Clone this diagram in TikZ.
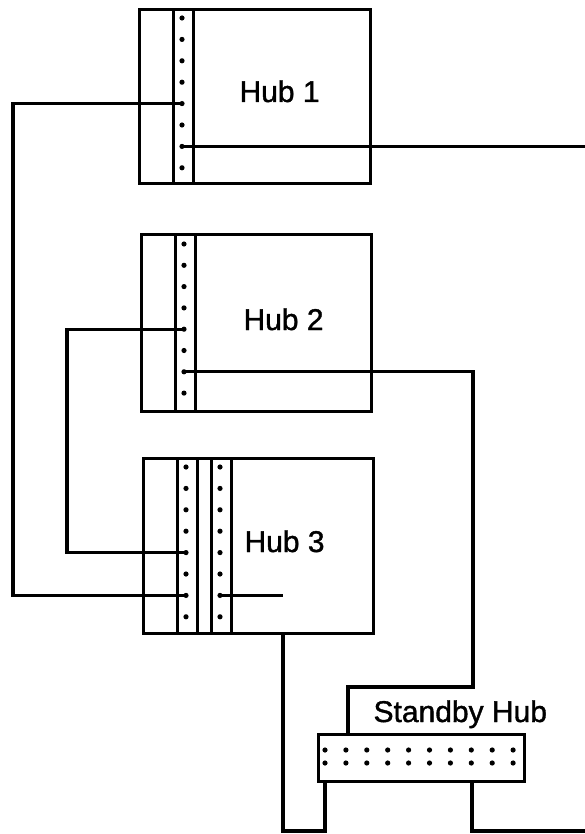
\documentclass[tikz,border=0pt]{standalone}
\usepackage{fontspec}
\setmainfont{Liberation Sans}[BoldFont={Liberation Sans}, BoldFeatures={FakeBold=1.2}]
\begin{document}
\begin{tikzpicture}[
        x=1pt, y=-1pt,
        line width=3.1pt,
        hubbox/.style={rectangle, draw, anchor=north west, inner sep=0pt},
        strip/.style={rectangle, draw, anchor=north west, inner sep=0pt, minimum width=20pt},
        port/.style={circle, fill, inner sep=0pt, minimum size=5.2pt},
        label/.style={anchor=base west, inner sep=0pt, font=\fontsize{30}{36}\selectfont\bfseries},
        wire/.style={draw, line width=3.1pt}
    ]
        \useasboundingbox (0,0) rectangle (585,834);

        % hubs
        \node[hubbox, minimum width=231pt, minimum height=174pt] (hub1) at (138,8) {};
        \node[hubbox, minimum width=230pt, minimum height=177pt] (hub2) at (140,233) {};
        \node[hubbox, minimum width=230pt, minimum height=175pt] (hub3) at (142,457) {};
        \node[hubbox, minimum width=206pt, minimum height=47pt] (standby) at (317,733) {};

        \node[strip, minimum height=174pt] (h1s) at (172,8) {};
        \node[strip, minimum height=177pt] (h2s) at (174,233) {};
        \node[strip, minimum height=175pt] (h3sa) at (176,457) {};
        \node[strip, minimum height=175pt] (h3sb) at (210,457) {};

        \node[label] at (238,102) {Hub 1};
        \node[label] at (242,330) {Hub 2};
        \node[label] at (243,552) {Hub 3};
        \node[label] at (372,722) {Standby Hub};

        % ports
        \foreach \k in {1,...,8} {
            \node[port] (h1p\k) at (182, {18+21.4*(\k-1)}) {};
            \node[port] (h2p\k) at (184, {244+21.3*(\k-1)}) {};
            \node[port] (h3a\k) at (186, {467+21.4*(\k-1)}) {};
            \node[port] (h3b\k) at (220, {467+21.4*(\k-1)}) {};
        }
        \foreach \k in {1,...,10} {
            \node[port] (sbu\k) at ({325+20.9*(\k-1)}, 750) {};
            \node[port] (sbl\k) at ({325+20.9*(\k-1)}, 763) {};
        }

        % turning points
        \coordinate (west1) at (13,0);
        \coordinate (west2) at (67,0);
        \coordinate (east) at (585,0);
        \coordinate (ne2) at (473,687);
        \coordinate (h3end) at (283,0);
        \coordinate (low) at (0,831);

        % wires
        \draw[wire] (h1p5.center) -- (h1p5 -| west1) |- (h3a7.center);
        \draw[wire] (h1p7.center) -- (h1p7 -| east);
        \draw[wire] (h2p5.center) -- (h2p5 -| west2) |- (h3a5.center);
        \draw[wire] (h2p7.center) -| (ne2) -| ([xshift=31pt]standby.north west);
        \draw[wire] (h3b7.center) -- (h3b7 -| h3end);
        \draw[wire] (hub3.south -| h3end) -- (low -| h3end) -| ([xshift=8pt]standby.south west);
        \draw[wire] ([xshift=155pt]standby.south west) |- (low -| east);
    \end{tikzpicture}
\end{document}
